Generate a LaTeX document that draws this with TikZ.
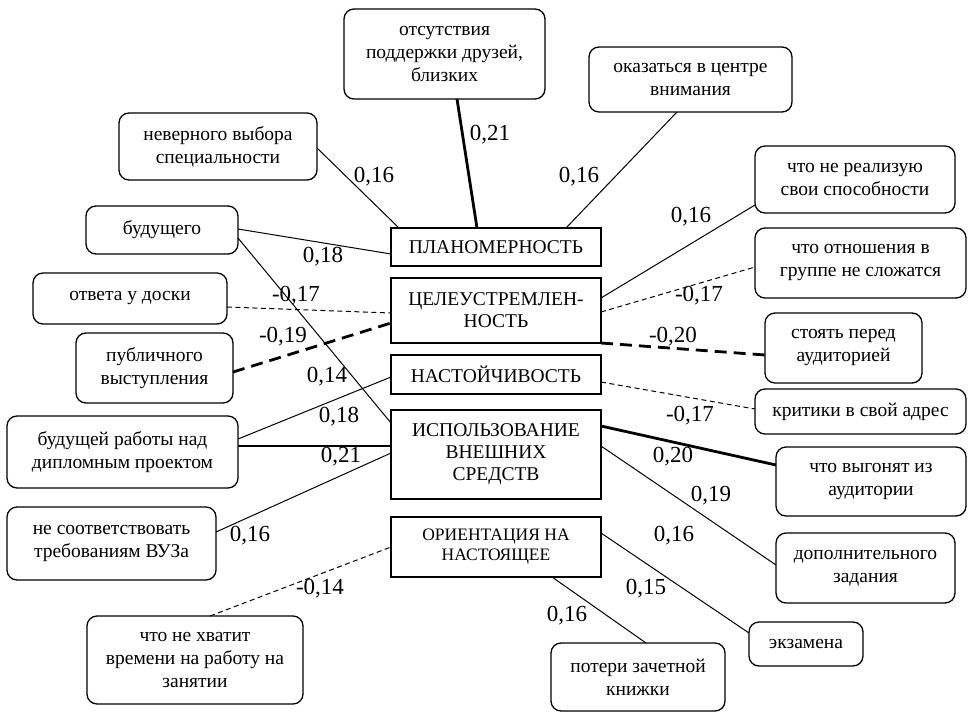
\documentclass[tikz,border=0pt]{standalone}
\usepackage{fontspec}
\setmainfont{Liberation Serif}
\usetikzlibrary{calc}
\begin{document}
\begin{tikzpicture}[x=1pt,y=-1pt,
  outer/.style={draw, rounded corners=10pt, line width=1.3pt, align=center, font=\fontsize{19.5}{23}\selectfont, inner sep=0pt, outer sep=0pt},
  core/.style={draw, line width=2.2pt, align=center, font=\fontsize{19.5}{22}\selectfont, inner sep=0pt, outer sep=0pt, minimum width=210pt},
  lnk/.style={line width=1pt},
  boldlnk/.style={line width=2.8pt},
  dashthin/.style={line width=1pt, dash pattern=on 5pt off 3.5pt},
  dashthick/.style={line width=2.8pt, dash pattern=on 12pt off 7pt},
  lab/.style={font=\fontsize{23}{25}\selectfont, inner sep=0pt}
]
\useasboundingbox (0,0) rectangle (968,712);

% central boxes
\node[core, minimum height=38pt] (plan) at (496,247) {ПЛАНОМЕРНОСТЬ};
\node[core, minimum height=65pt] (tsel) at (496,310.5) {ЦЕЛЕУСТРЕМЛЕН-\\НОСТЬ};
\node[core, minimum height=39pt] (nast) at (496,374.5) {НАСТОЙЧИВОСТЬ};
\node[core, minimum height=89pt] (isp) at (496,454.5) {ИСПОЛЬЗОВАНИЕ\\ВНЕШНИХ\\СРЕДСТВ};
\node[core, minimum height=60pt, font=\fontsize{17.5}{20}\selectfont] (orient) at (496,547) {ОРИЕНТАЦИЯ НА\\НАСТОЯЩЕЕ};

% outer boxes
\node[outer, minimum width=201pt, minimum height=90pt] (otsut) at (444.5,54) {отсутствия\\поддержки друзей,\\близких};
\node[outer, minimum width=203pt, minimum height=65pt] (okaz) at (690.5,79.5) {оказаться в центре\\внимания};
\node[outer, minimum width=198pt, minimum height=67pt] (never) at (218,146.5) {неверного выбора\\специальности};
\node[outer, minimum width=152pt, minimum height=48pt] (bud) at (162,230) {будущего};
\node[outer, minimum width=194pt, minimum height=51pt] (otvet) at (130,298.5) {ответа у доски};
\node[outer, minimum width=157pt, minimum height=70pt] (publ) at (154.5,368) {публичного\\выступления};
\node[outer, minimum width=231pt, minimum height=72pt] (budrab) at (122.5,452) {будущей работы над\\дипломным проектом};
\node[outer, minimum width=209pt, minimum height=73pt] (nesoot) at (111.5,543.5) {не соответствовать\\требованиям ВУЗа};
\node[outer, minimum width=216pt, minimum height=88pt] (nehvat) at (195,660) {что не хватит\\времени на работу на\\занятии};
\node[outer, minimum width=200pt, minimum height=67pt] (nereal) at (855,179.5) {что не реализую\\свои способности};
\node[outer, minimum width=211pt, minimum height=70pt] (otnosh) at (860.5,263) {что отношения в\\группе не сложатся};
\node[outer, minimum width=157pt, minimum height=70pt] (stoyat) at (843.5,348) {стоять перед\\аудиторией};
\node[outer, minimum width=211pt, minimum height=45pt] (kritik) at (860.5,411.5) {критики в свой адрес};
\node[outer, minimum width=190pt, minimum height=69pt] (vygon) at (871,481.5) {что выгонят из\\аудитории};
\node[outer, minimum width=179pt, minimum height=70pt] (dopoln) at (865.5,568) {дополнительного\\задания};
\node[outer, minimum width=114pt, minimum height=44pt] (ekzam) at (806,644) {экзамена};
\node[outer, minimum width=174pt, minimum height=68pt] (poteri) at (638,677) {потери зачетной\\книжки};

% connectors, left side
\draw[boldlnk] ($(otsut.north west)+(113,90)$) -- ($(plan.north west)+(86,0)$);
\draw[lnk] ($(never.north west)+(198,35)$) -- ($(plan.north west)+(8,0)$);
\draw[lnk] ($(bud.north west)+(152,23)$) -- ($(plan.north west)+(0,26)$);
\draw[lnk] ($(bud.north west)+(152,32)$) -- ($(isp.north west)+(0,13)$);
\draw[dashthin] ($(otvet.north west)+(194,34)$) -- ($(tsel.north west)+(0,35)$);
\draw[dashthick] ($(publ.north west)+(157,39)$) -- ($(tsel.north west)+(0,45)$);
\draw[lnk] ($(budrab.north west)+(231,23)$) -- ($(nast.north west)+(0,22)$);
\draw[boldlnk] ($(budrab.north west)+(231,30)$) -- ($(isp.north west)+(0,36)$);
\draw[lnk] ($(nesoot.north west)+(209,25)$) -- ($(isp.north west)+(0,43)$);
\draw[dashthin] ($(nehvat.north west)+(123,0)$) -- ($(orient.north west)+(0,30)$);

% connectors, right side
\draw[lnk] ($(okaz.north west)+(88,65)$) -- ($(plan.north west)+(175,0)$);
\draw[lnk] ($(tsel.north west)+(210,20)$) -- ($(nereal.north west)+(0,59)$);
\draw[dashthin] ($(tsel.north west)+(210,34)$) -- ($(otnosh.north west)+(0,39)$);
\draw[dashthick] ($(tsel.north west)+(210,65)$) -- ($(stoyat.north west)+(0,42)$);
\draw[dashthin] ($(nast.north west)+(210,27)$) -- ($(kritik.north west)+(0,20)$);
\draw[boldlnk] ($(isp.north west)+(210,16)$) -- ($(vygon.north west)+(0,18)$);
\draw[lnk] ($(isp.north west)+(210,36)$) -- ($(dopoln.north west)+(0,32)$);
\draw[lnk] ($(orient.north west)+(210,16)$) -- ($(ekzam.north west)+(0,11)$);
\draw[lnk] ($(orient.north west)+(161,60)$) -- ($(poteri.north west)+(95,0)$);

% labels
\node[lab] (l1) at (490,135) {0,21};
\node[lab] (l2) at (374,177) {0,16};
\node[lab] (l3) at (323,257) {0,18};
\node[lab] (l4) at (296,296) {-0,17};
\node[lab] (l5) at (283,337) {-0,19};
\node[lab] (l6) at (327,377) {0,14};
\node[lab] (l7) at (339,417) {0,18};
\node[lab] (l8) at (341,457) {0,21};
\node[lab] (l9) at (250,536) {0,16};
\node[lab] (l10) at (320,589) {-0,14};
\node[lab] (r1) at (579,177) {0,16};
\node[lab] (r2) at (691,217) {0,16};
\node[lab] (r3) at (699,296) {-0,17};
\node[lab] (r4) at (673,337) {-0,20};
\node[lab] (r5) at (690,416) {-0,17};
\node[lab] (r6) at (673,457) {0,20};
\node[lab] (r7) at (711,496) {0,19};
\node[lab] (r8) at (674,536) {0,16};
\node[lab] (r9) at (646,589) {0,15};
\node[lab] (r10) at (567,616) {0,16};
\end{tikzpicture}
\end{document}
